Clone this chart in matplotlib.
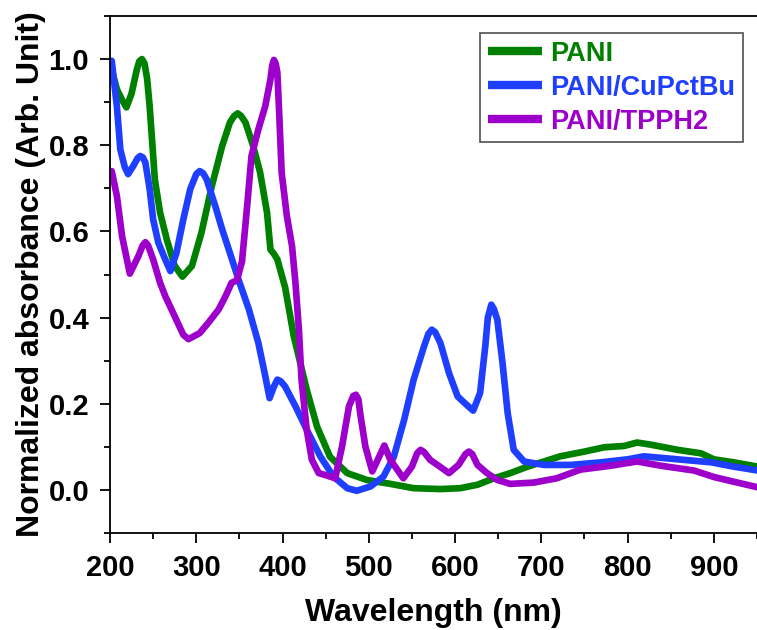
import matplotlib
matplotlib.use("Agg")
import matplotlib.pyplot as plt
from matplotlib.ticker import MultipleLocator

plt.rcParams['font.family'] = ['Liberation Sans', 'DejaVu Sans']
plt.rcParams['font.weight'] = 'bold'

# UV-Vis absorbance spectra (wavelength in nm, normalized absorbance)
pani_wl = [202, 208, 214, 219, 225, 231, 234, 237, 240, 243, 246, 252, 258, 266, 275,
           284, 295, 306, 318, 330, 339, 344, 348, 352, 357, 366, 374, 382, 386, 390,
           394, 403, 413, 428, 440, 455, 475, 498, 525, 552, 583, 606, 626, 645, 664,
           684, 703, 722, 750, 773, 796, 811, 827, 858, 885, 900, 923, 951]
pani_abs = [0.975, 0.93, 0.905, 0.888, 0.92, 0.975, 0.995, 1.0, 0.99, 0.955, 0.89, 0.72,
            0.644, 0.58, 0.52, 0.495, 0.52, 0.597, 0.705, 0.798, 0.853, 0.868, 0.874,
            0.868, 0.853, 0.798, 0.737, 0.644, 0.558, 0.548, 0.535, 0.47, 0.357, 0.233,
            0.147, 0.077, 0.039, 0.023, 0.014, 0.004, 0.002, 0.004, 0.012, 0.027, 0.039,
            0.054, 0.066, 0.078, 0.089, 0.099, 0.102, 0.11, 0.105, 0.093, 0.085, 0.071,
            0.064, 0.054]

cupc_wl = [202, 208, 212, 217, 221, 227, 232, 235, 238, 241, 246, 250, 256, 264, 270,
           277, 285, 293, 300, 304, 308, 312, 322, 330, 339, 349, 361, 372, 380, 385,
           390, 394, 398, 403, 415, 428, 444, 459, 475, 486, 502, 517, 529, 541, 552,
           564, 569, 573, 577, 583, 593, 603, 612, 621, 629, 635, 638, 642, 645, 649,
           655, 661, 668, 680, 703, 734, 769, 800, 819, 858, 897, 923, 951]
cupc_abs = [0.996, 0.89, 0.79, 0.75, 0.733, 0.752, 0.77, 0.775, 0.772, 0.76, 0.698,
            0.628, 0.574, 0.535, 0.508, 0.55, 0.628, 0.698, 0.733, 0.74, 0.735, 0.721,
            0.659, 0.605, 0.55, 0.488, 0.419, 0.341, 0.264, 0.213, 0.24, 0.256, 0.252,
            0.24, 0.194, 0.14, 0.077, 0.031, 0.004, -0.002, 0.008, 0.031, 0.077, 0.163,
            0.256, 0.333, 0.362, 0.372, 0.366, 0.341, 0.271, 0.217, 0.2, 0.184, 0.225,
            0.333, 0.40, 0.43, 0.42, 0.395, 0.295, 0.178, 0.093, 0.066, 0.058, 0.058,
            0.064, 0.071, 0.078, 0.071, 0.064, 0.054, 0.045]

tpp_wl = [202, 208, 214, 223, 233, 238, 241, 244, 250, 258, 264, 275, 285, 291, 304,
          314, 326, 334, 341, 347, 353, 359, 364, 372, 380, 386, 388, 390, 392, 394,
          396, 399, 405, 411, 415, 419, 422, 428, 434, 442, 452, 461, 469, 477, 482,
          485, 488, 490, 496, 504, 512, 518, 525, 540, 550, 556, 560, 564, 571, 593,
          604, 612, 616, 620, 626, 637, 649, 664, 691, 718, 745, 780, 811, 839, 877,
          900, 923, 951]
tpp_abs = [0.74, 0.682, 0.589, 0.502, 0.543, 0.568, 0.575, 0.568, 0.535, 0.481, 0.45,
           0.403, 0.36, 0.35, 0.364, 0.388, 0.419, 0.45, 0.481, 0.486, 0.53, 0.659,
           0.775, 0.837, 0.891, 0.953, 0.985, 0.998, 0.99, 0.969, 0.88, 0.736, 0.636,
           0.566, 0.48, 0.372, 0.256, 0.14, 0.07, 0.039, 0.033, 0.027, 0.101, 0.194,
           0.218, 0.221, 0.21, 0.178, 0.101, 0.043, 0.077, 0.103, 0.07, 0.027, 0.054,
           0.085, 0.093, 0.088, 0.07, 0.039, 0.058, 0.083, 0.089, 0.083, 0.058, 0.039,
           0.023, 0.014, 0.017, 0.027, 0.047, 0.056, 0.066, 0.056, 0.045, 0.03, 0.019,
           0.006]

series_labels = ['PANI', 'PANI/CuPctBu', 'PANI/TPPH2']
series_colors = ['#008000', '#1f3fff', '#9e00cc']

x_ticks = [200, 300, 400, 500, 600, 700, 800, 900]
y_ticks = [0.0, 0.2, 0.4, 0.6, 0.8, 1.0]

fig = plt.figure(figsize=(7.57, 6.30), dpi=100)
ax = fig.add_axes([110 / 757, 97 / 630, 647 / 757, 517 / 630])

for wl, ab, lab, col in zip([pani_wl, cupc_wl, tpp_wl],
                            [pani_abs, cupc_abs, tpp_abs],
                            series_labels, series_colors):
    ax.plot(wl, ab, color=col, lw=4.8, label=lab,
            solid_joinstyle='round', solid_capstyle='round')

ax.set_xlim(200, 950)
ax.set_ylim(-0.1, 1.1)
ax.set_xticks(x_ticks)
ax.set_xticklabels([str(t) for t in x_ticks])
ax.set_yticks(y_ticks)
ax.set_yticklabels([f'{t:.1f}' for t in y_ticks])
ax.xaxis.set_minor_locator(MultipleLocator(50))
ax.yaxis.set_minor_locator(MultipleLocator(0.1))

ax.spines['right'].set_visible(False)
for s in ['left', 'bottom', 'top']:
    ax.spines[s].set_linewidth(1.3)
ax.tick_params(which='major', direction='out', length=7, width=1.3,
               labelsize=21, pad=8, top=False, right=False)
ax.tick_params(which='minor', direction='out', length=4.5, width=1.3,
               top=False, right=False)

ax.set_xlabel('Wavelength (nm)', fontsize=23, fontweight='bold', labelpad=11.5)
ax.set_ylabel('Normalized absorbance (Arb. Unit)', fontsize=23,
              fontweight='bold', labelpad=2)

leg = ax.legend(loc='upper left', bbox_to_anchor=(0.572, 0.967), borderaxespad=0,
                handlelength=2.0, handletextpad=0.3,
                labelspacing=0.3, borderpad=0.28, fancybox=False,
                frameon=True, prop={'weight': 'bold', 'size': 19.5})
leg.get_frame().set_edgecolor('#222222')
leg.get_frame().set_linewidth(1.2)
for txt, col in zip(leg.get_texts(), series_colors):
    txt.set_color(col)
for h in leg.get_lines():
    h.set_linewidth(6)
    h.set_solid_capstyle('butt')

fig.savefig('out.png', dpi=100)
